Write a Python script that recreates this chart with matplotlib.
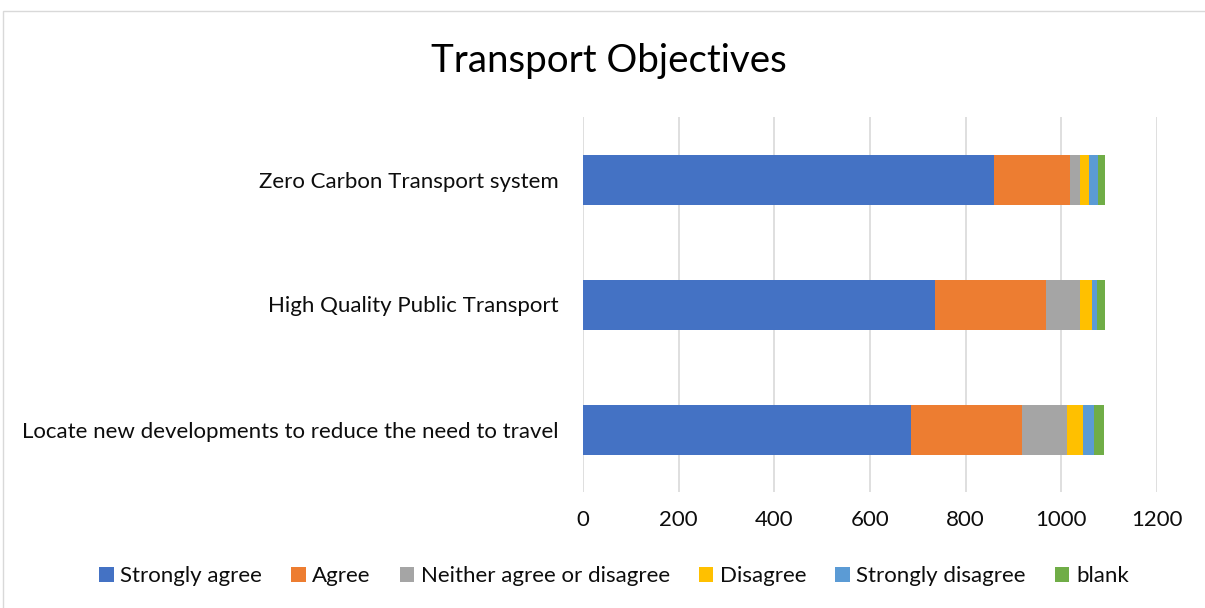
import numpy as np
import matplotlib.pyplot as plt
from matplotlib.patches import Rectangle

categories = ['Zero Carbon Transport system',
              'High Quality Public Transport',
              'Locate new developments to reduce the need to travel']
series = ['Strongly agree', 'Agree', 'Neither agree or disagree',
          'Disagree', 'Strongly disagree', 'blank']
strongly_agree = [860, 736, 686]
agree = [158, 231, 232]
neither = [22, 71, 93]
disagree = [17, 26, 34]
strongly_disagree = [19, 11, 23]
blank = [15, 16, 22]
colors = ['#4472C4', '#ED7D31', '#A5A5A5', '#FFC000', '#5B9BD5', '#70AD47']
xticks = [0, 200, 400, 600, 800, 1000, 1200]

plt.rcParams['font.family'] = ['Lato', 'DejaVu Sans']
txt = '#0d0d0d'

fig = plt.figure(figsize=(12.05, 6.08), dpi=100)
ax = fig.add_axes([583 / 1205, 1 - 492 / 608, 574 / 1205, 375 / 608])

# chart border
fig.patches.append(Rectangle((3 / 1205, -0.05), 1.2, 1 - 11 / 608 + 0.05,
                             transform=fig.transFigure, fill=False,
                             edgecolor='#D9D9D9', linewidth=1))

ypos = np.arange(len(categories))[::-1]
left = np.zeros(len(categories))
data = [strongly_agree, agree, neither, disagree, strongly_disagree, blank]
for name, vals, c in zip(series, data, colors):
    vals = np.array(vals, dtype=float)
    ax.barh(ypos, vals, left=left, height=0.4, color=c, label=name, zorder=3)
    left += vals

ax.set_xlim(0, 1200)
ax.set_ylim(-0.5, 2.5)
ax.set_xticks(xticks)
ax.set_yticks(ypos)
ax.set_yticklabels(categories)
ax.grid(axis='x', color='#D9D9D9', linewidth=1.2, zorder=0)
for s in ax.spines.values():
    s.set_visible(False)
ax.tick_params(axis='both', length=0, labelsize=16, colors=txt)
ax.tick_params(axis='y', pad=17.5)
ax.tick_params(axis='x', pad=13)

fig.text(609 / 1205, 1 - 61 / 608, 'Transport Objectives', ha='center', va='center',
         fontsize=27.7, color='#000000')

fig.legend(*ax.get_legend_handles_labels(), loc='center', ncol=6,
           bbox_to_anchor=(614 / 1205, 1 - 576 / 608), frameon=False,
           fontsize=16, handlelength=0.65, handleheight=0.65, handletextpad=0.3,
           columnspacing=1.3, labelcolor=txt)

fig.savefig('out.png', dpi=100)
